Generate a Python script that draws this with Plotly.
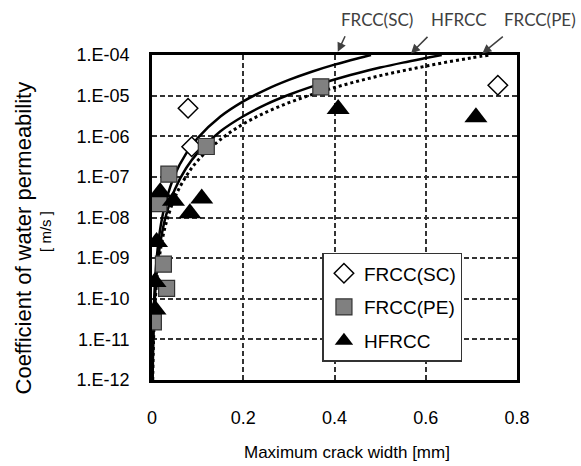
import plotly.graph_objects as go

# ---- measured points -------------------------------------------------------
sc_w = [0.758, 0.079, 0.087]
sc_k = [1.8e-5, 4.9e-6, 5.5e-7]

pe_w = [0.370, 0.119, 0.037, 0.015, 0.025, 0.032, 0.003]
pe_k = [1.65e-5, 5.6e-7, 1.17e-7, 2.2e-8, 7.1e-10, 1.8e-10, 2.7e-11]

hf_w = [0.408, 0.710, 0.018, 0.047, 0.109, 0.083, 0.010, 0.0066, 0.0066]
hf_k = [4.7e-6, 2.95e-6, 4.2e-8, 2.6e-8, 2.95e-8, 1.27e-8, 2.5e-9, 2.6e-10, 5.4e-11]

# ---- fitted trend curves (crack width vs permeability) ---------------------
sc_curve_w = [0.00104, 0.002, 0.004, 0.007, 0.012, 0.02, 0.03, 0.05, 0.075, 0.1,
              0.15, 0.2, 0.25, 0.3, 0.35, 0.4, 0.45, 0.48]
sc_curve_k = [1.0e-12, 7.2e-12, 5.8e-11, 3.1e-10, 1.56e-9, 7.2e-9, 2.4e-8, 1.13e-7,
              3.8e-7, 9.0e-7, 3.05e-6, 7.2e-6, 1.41e-5, 2.44e-5, 3.88e-5, 5.79e-5,
              8.24e-5, 1.0e-4]

hf_curve_w = [0.00137, 0.0025, 0.005, 0.008, 0.012, 0.02, 0.03, 0.05, 0.075, 0.1,
              0.15, 0.2, 0.25, 0.3, 0.35, 0.4, 0.45, 0.5, 0.55, 0.6, 0.635]
hf_curve_k = [1.0e-12, 6.1e-12, 4.9e-11, 2.0e-10, 6.7e-10, 3.1e-9, 1.05e-8, 4.9e-8,
              1.65e-7, 3.9e-7, 1.32e-6, 3.1e-6, 6.1e-6, 1.05e-5, 1.67e-5, 2.5e-5,
              3.55e-5, 4.9e-5, 6.5e-5, 8.4e-5, 1.0e-4]

pe_curve_w = [0.0016, 0.003, 0.006, 0.01, 0.015, 0.02, 0.03, 0.05, 0.075, 0.1, 0.15,
              0.2, 0.25, 0.3, 0.35, 0.4, 0.45, 0.5, 0.55, 0.6, 0.65, 0.7, 0.74]
pe_curve_k = [1.0e-12, 6.7e-12, 5.3e-11, 2.5e-10, 8.3e-10, 2.0e-9, 6.7e-9, 3.1e-8,
              1.04e-7, 2.5e-7, 8.3e-7, 2.0e-6, 3.9e-6, 6.7e-6, 1.06e-5, 1.58e-5,
              2.25e-5, 3.1e-5, 4.1e-5, 5.3e-5, 6.8e-5, 8.5e-5, 1.0e-4]

# ---- axis ticks ------------------------------------------------------------
y_tickvals = [1e-12, 1e-11, 1e-10, 1e-9, 1e-8, 1e-7, 1e-6, 1e-5, 1e-4]
y_ticktext = ["1.E-12", "1.E-11", "1.E-10", "1.E-09", "1.E-08",
              "1.E-07", "1.E-06", "1.E-05", "1.E-04"]
x_tickvals = [0, 0.2, 0.4, 0.6, 0.8]
x_ticktext = ["0", "0.2", "0.4", "0.6", "0.8"]

FONT = "Liberation Sans, Arial, sans-serif"

fig = go.Figure()

# trend curves
fig.add_trace(go.Scatter(x=sc_curve_w, y=sc_curve_k, mode="lines", showlegend=False,
                         line=dict(color="black", width=2.5, shape="spline")))
fig.add_trace(go.Scatter(x=hf_curve_w, y=hf_curve_k, mode="lines", showlegend=False,
                         line=dict(color="black", width=2.5, shape="spline")))
fig.add_trace(go.Scatter(x=pe_curve_w, y=pe_curve_k, mode="lines", showlegend=False,
                         line=dict(color="black", width=3, dash="dot", shape="spline")))

# measured series
fig.add_trace(go.Scatter(x=sc_w, y=sc_k, mode="markers", name="FRCC(SC)", legendgroup="a",
                         marker=dict(symbol="diamond", size=15, color="white",
                                     line=dict(color="black", width=1.5))))
fig.add_trace(go.Scatter(x=pe_w, y=pe_k, mode="markers", name="FRCC(PE)", legendgroup="b",
                         marker=dict(symbol="square", size=16, color="#808080",
                                     line=dict(color="#333333", width=1.2))))
fig.add_trace(go.Scatter(x=hf_w, y=hf_k, mode="markers", name="HFRCC", legendgroup="c",
                         marker=dict(symbol="triangle-up", size=20, color="black",
                                     line=dict(color="black", width=0))))

grid = dict(showgrid=True, gridcolor="#333333", gridwidth=1.5, griddash="5px,3px",
            showline=True, linecolor="black", linewidth=2.5, mirror=True,
            zeroline=False, ticks="", tickfont=dict(family=FONT, size=18, color="black"))

fig.update_xaxes(range=[0, 0.8], tickmode="array", tickvals=x_tickvals,
                 ticktext=x_ticktext, ticklabelstandoff=20, **grid)
fig.update_yaxes(type="log", range=[-12, -4], tickmode="array", tickvals=y_tickvals,
                 ticktext=y_ticktext, ticklabelstandoff=16, **grid)

annotations = [
    dict(text="Maximum crack width [mm]", xref="paper", yref="paper", x=0.533, y=-0.222,
         showarrow=False, font=dict(family=FONT, size=17, color="black"),
         xanchor="center", yanchor="middle"),
    dict(text="Coefficient of water permeability", xref="paper", yref="paper",
         x=-0.352, y=0.437, showarrow=False, textangle=-90,
         font=dict(family=FONT, size=22, color="black"),
         xanchor="center", yanchor="middle"),
    dict(text="[ m/s ]", xref="paper", yref="paper", x=-0.292, y=0.457,
         showarrow=False, textangle=-90,
         font=dict(family=FONT, size=15, color="black"),
         xanchor="center", yanchor="middle"),
]

# curve labels above the frame with pointer arrows
labels = [("FRCC(SC)", 0.617, 0.509, 1.010, 8, -17),
          ("HFRCC", 0.842, 0.7096, 1.005, 18, -18),
          ("FRCC(PE)", 1.063, 0.905, 1.005, 22, -18)]
for text, tx, px, py, ax, ay in labels:
    annotations.append(dict(text=text, xref="paper", yref="paper", x=tx, y=1.108,
                            showarrow=False, xanchor="center", yanchor="middle",
                            font=dict(family="Lato, sans-serif", size=17, color="#404040")))
    annotations.append(dict(text="", xref="paper", yref="paper", x=px, y=py,
                            showarrow=True, ax=ax, ay=ay, arrowhead=2, arrowsize=1.2,
                            arrowwidth=1.5, arrowcolor="#404040", standoff=0))

fig.update_layout(
    width=581, height=466, autosize=False,
    margin=dict(l=152, r=64, t=55, b=86),
    paper_bgcolor="white", plot_bgcolor="white",
    annotations=annotations,
    legend=dict(x=0.467, y=0.391, xanchor="left", yanchor="top",
                bgcolor="white", bordercolor="#333333", borderwidth=1.5,
                font=dict(family=FONT, size=19, color="black"),
                traceorder="grouped", tracegroupgap=6, entrywidth=118),
)

fig.write_html("out.html")
